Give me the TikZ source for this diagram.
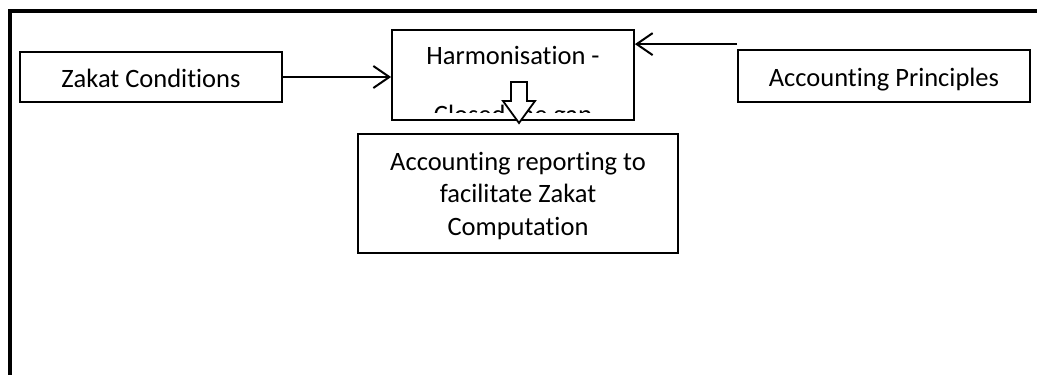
\documentclass[tikz,border=0pt]{standalone}
\usepackage{fontspec}
\setmainfont{Carlito}[RawFeature=-liga]
\usetikzlibrary{arrows.meta,calc}
\begin{document}
\begin{tikzpicture}[x=1pt,y=-1pt,
  box/.style={draw,line width=1.8pt,inner sep=0pt,align=center,font=\fontsize{26.5}{32.5}\selectfont},
  onebox/.style={box,text height=21pt,text depth=0pt},
  lbl/.style={inner sep=0pt,align=center,font=\fontsize{26.5}{32.5}\selectfont},
  conn/.style={line width=2pt,-{Straight Barb[length=16pt,width=22pt,line width=2pt]}},
  blockarrow/.style={draw,fill=white,line width=1.8pt,line join=miter}]
\useasboundingbox (0,0) rectangle (1037,375);
\draw[line width=4pt] (10,375) -- (10,11) -- (1037,11);
\node[onebox,minimum width=262pt,minimum height=50pt] (zakat) at (151,77) {Zakat Conditions};
\node[box,minimum width=242pt,minimum height=90pt] (harm) at (513,75) {};
\node[onebox,minimum width=292pt,minimum height=52pt] (ap) at (884,76) {Accounting Principles};
\node[box,minimum width=320pt,minimum height=119pt] (rep) at (518,193.5) {};
\node[lbl] (reptxt) at (518,196) {Accounting reporting to\\facilitate Zakat\\Computation};
\node[lbl,anchor=base] (harmtxt) at (513,64) {Harmonisation -};
\begin{scope}
\clip (392,30) rectangle (634,112);
\node[lbl,anchor=base] (gaptxt) at (513,123) {Closed the gap};
\end{scope}
\draw[blockarrow] (511,82) -- (527,82) -- (527,101) -- (535,101) -- (519,123) -- (503,101) -- (511,101) -- cycle;
\draw[conn] (zakat.east) -- (zakat.east -| harm.west);
\coordinate (apin) at ($(ap.north west)+(0,-5)$);
\draw[conn] (apin) -- (apin -| harm.east);
\end{tikzpicture}
\end{document}
